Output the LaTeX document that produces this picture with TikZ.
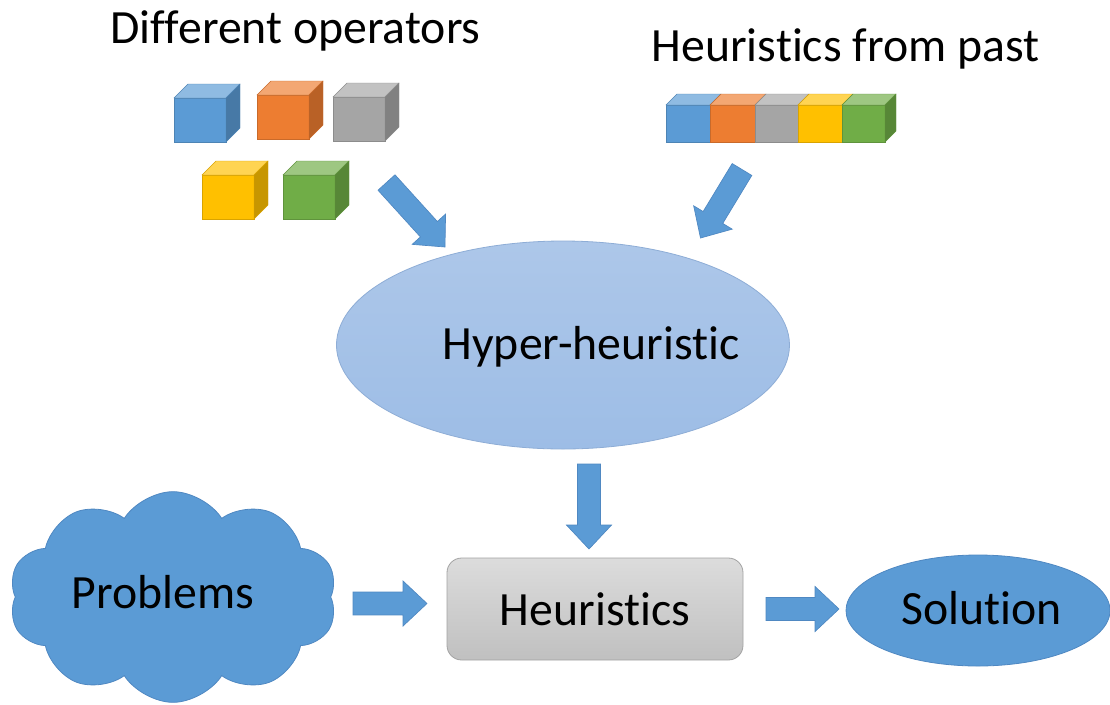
\documentclass[tikz,border=0pt]{standalone}
\usepackage{fontspec}
\setmainfont{Carlito}[Ligatures=NoCommon]
\usetikzlibrary{shapes.geometric,shapes.symbols,calc}

% Office palette
\definecolor{opblue}{HTML}{5B9BD5}
\definecolor{oporange}{HTML}{ED7D31}
\definecolor{opgray}{HTML}{A5A5A5}
\definecolor{opyellow}{HTML}{FFC000}
\definecolor{opgreen}{HTML}{70AD47}
\definecolor{arrowline}{HTML}{4F88C2}
\definecolor{hhtop}{HTML}{ADC7E9}
\definecolor{hhbottom}{HTML}{9DBDE6}
\definecolor{hhline}{HTML}{8EADD6}
\definecolor{boxtop}{HTML}{DCDCDC}
\definecolor{boxbottom}{HTML}{C0C0C0}
\definecolor{boxline}{HTML}{A3A3A3}

\tikzset{
  label text/.style={font=\fontsize{35.8}{43}\selectfont, inner sep=0pt, anchor=base},
  hyper/.style={ellipse, minimum width=339.75pt, minimum height=156pt, inner sep=0pt,
    top color=hhtop, bottom color=hhbottom, draw=hhline, line width=0.6pt},
  heurbox/.style={rectangle, rounded corners=11pt, minimum width=222pt, minimum height=76.5pt,
    inner sep=0pt, top color=boxtop, bottom color=boxbottom, draw=boxline, line width=0.6pt},
  solution/.style={ellipse, minimum width=198pt, minimum height=83.25pt, inner sep=0pt,
    fill=opblue, draw=arrowline, line width=0.6pt},
  problems/.style={cloud, cloud puffs=10, cloud puff arc=115, aspect=1.56,
    minimum width=246pt, minimum height=158pt, inner sep=0pt,
    fill=opblue, draw=arrowline, line width=0.6pt},
  facefront/.style={fill=#1, draw=#1!85!black, line width=0.3pt},
  facetop/.style={fill=#1!68!white, draw=#1!85!black, line width=0.3pt},
  faceside/.style={fill=#1!78!black, draw=#1!85!black, line width=0.3pt},
}

% one operator cube: front top-left corner (#1,#2), colour #3
\newcommand\opcube[3]{%
  \fill[facefront=#3] (#1,#2) rectangle ({#1+52},{#2+44});
  \fill[facetop=#3] (#1,#2) -- ({#1+14},{#2-14}) -- ({#1+66},{#2-14}) -- ({#1+52},#2) -- cycle;
  \fill[faceside=#3] ({#1+52},#2) -- ({#1+66},{#2-14}) -- ({#1+66},{#2+30}) -- ({#1+52},{#2+44}) -- cycle;
}

% one segment of the heuristics bar: left x #1, right x #2, colour #3
\newcommand\barseg[3]{%
  \fill[facefront=#3] (#1,105) rectangle (#2,142);
  \fill[facetop=#3] (#1,105) -- ({#1+11},94) -- ({#2+11},94) -- (#2,105) -- cycle;
}

% block arrow from coordinate #1 to coordinate #2
\newcommand\blockarrow[2]{%
  \coordinate (hb) at ($(#2)!18pt!(#1)$);
  \filldraw[fill=opblue, draw=arrowline, line width=0.5pt, line join=miter]
    ($(#1)!8.6pt!90:(#2)$) -- ($(hb)!8.6pt!-90:(#1)$) -- ($(hb)!16.9pt!-90:(#1)$) -- (#2)
    -- ($(hb)!16.9pt!90:(#1)$) -- ($(hb)!8.6pt!90:(#1)$) -- ($(#1)!8.6pt!-90:(#2)$) -- cycle;
}

\begin{document}
\begin{tikzpicture}[x=0.75pt, y=-0.75pt]
\useasboundingbox (0,0) rectangle (1110,704);
\fill[white] (0,0) rectangle (1110,704);

% headings
\node[label text] (opstitle) at (295.5,43) {Different operators};
\node[label text] (pasttitle) at (845.5,61) {Heuristics from past};

% operator cubes
\opcube{174}{98}{opblue}
\opcube{257}{95}{oporange}
\opcube{333}{97}{opgray}
\opcube{202}{175}{opyellow}
\opcube{283}{175}{opgreen}

% heuristics from past, as one bar
\barseg{666}{710}{opblue}
\barseg{710}{755}{oporange}
\barseg{755}{798}{opgray}
\barseg{798}{842}{opyellow}
\barseg{842}{885}{opgreen}
\fill[faceside=opgreen] (885,105) -- (896,94) -- (896,131) -- (885,142) -- cycle;

% main shapes
\node[hyper] (hh) at (563,345) {};
\node[label text] (hhtext) at (591,359) {Hyper-heuristic};

\node[heurbox] (heur) at (595,609) {};
\node[label text] (heurtext) at (595,625) {Heuristics};

\node[solution] (sol) at (978,610.5) {};
\node[label text] (soltext) at (982,624) {Solution};

\node[problems] (prob) at (173,597) {};
\node[label text] (probtext) at (163,608) {Problems};

% arrow ends
\coordinate (a1s) at (386.5,182.5);
\coordinate (a1e) at (445,247);
\coordinate (a2s) at (742,169.5);
\coordinate (a2e) at (700.5,238);
\coordinate (a3s) at (589,464);
\coordinate (a3e) at (589,549);
\coordinate (a4s) at (353,603.5);
\coordinate (a4e) at (427,603.5);
\coordinate (a5s) at (766,609);
\coordinate (a5e) at (839,609);

\blockarrow{a1s}{a1e}
\blockarrow{a2s}{a2e}
\blockarrow{a3s}{a3e}
\blockarrow{a4s}{a4e}
\blockarrow{a5s}{a5e}
\end{tikzpicture}
\end{document}
